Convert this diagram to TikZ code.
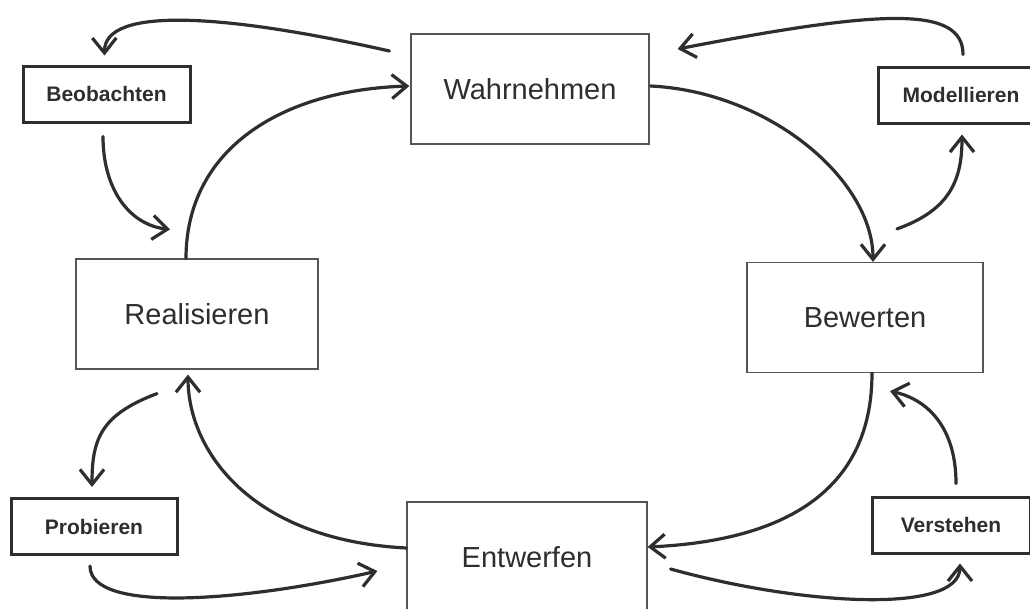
\documentclass[tikz,border=0pt]{standalone}
\usepackage{fontspec}
\setmainfont{Liberation Sans}
\usetikzlibrary{arrows.meta,calc}
\definecolor{ink}{HTML}{2E2E2E}
\definecolor{thinline}{HTML}{555555}
\tikzset{
  bigbox/.style={draw=thinline, line width=1.2pt, fill=none, minimum width=#1, minimum height=110pt,
    inner sep=0pt, text=ink, font=\fontsize{29}{34}\selectfont},
  smallbox/.style={draw=ink, line width=3pt, minimum width=#1, minimum height=56pt,
    inner sep=0pt, text=ink, font=\bfseries\fontsize{21}{25}\selectfont},
  arr/.style={draw=ink, line width=3.2pt, line cap=round,
    -{Straight Barb[length=15pt,width=24pt,line width=3.2pt]}}
}
\begin{document}
\begin{tikzpicture}[x=1pt,y=-1pt]
\useasboundingbox (0,0) rectangle (1030,608);
\fill[white] (0,0) rectangle (1030,608);
% main boxes
\node[bigbox=238pt] (W)  at (530,89)    {Wahrnehmen};
\node[bigbox=242pt] (R)  at (197,314)   {Realisieren};
\node[bigbox=236pt] (Bw) at (865,317.5) {Bewerten};
\node[bigbox=240pt] (E)  at (527,557)   {Entwerfen};
% small boxes
\node[smallbox=167pt] (Bo) at (106.5,94) {Beobachten};
\node[smallbox=166pt] (Mo) at (961,95)   {Modellieren};
\node[smallbox=166pt] (Pr) at (94,526.5) {Probieren};
\node[smallbox=158pt] (Ve) at (951,525)  {Verstehen};
% connectors
\draw[arr] ($(W.west)+(-21,-38)$) .. controls (230,15) and (104,5) .. ($(Bo.north)+(-2,-9)$);
\draw[arr] ($(Mo.north)+(2,-11)$) .. controls (963,5) and (880,10) .. ($(W.east)+(28,-40)$);
\draw[arr] ($(W.east)+(1,-3)$) .. controls (770,92) and (873,180) .. ($(Bw.north)+(8,0)$);
\draw[arr] ($(Bw.north)+(32,-33)$) .. controls (950,210) and (962,180) .. ($(Mo.south)+(1,10)$);
\draw[arr] ($(Bw.south)+(7,0)$) .. controls (872,480) and (800,540) .. ($(E.east)+(0,-10)$);
\draw[arr] ($(Ve.north)+(5,-12)$) .. controls (956,430) and (930,400) .. ($(Bw.south)+(25,18)$);
\draw[arr] ($(E.east)+(23,12)$) .. controls (800,605) and (960,615) .. ($(Ve.south)+(9,9)$);
\draw[arr] ($(E.west)+(0,-9)$) .. controls (250,540) and (188,450) .. ($(R.south)+(-9,5)$);
\draw[arr] ($(R.south)+(-40,24)$) .. controls (100,415) and (92,440) .. ($(Pr.north)+(-2,-10)$);
\draw[arr] ($(Pr.south)+(-4,10)$) .. controls (90,615) and (250,600) .. ($(E.west)+(-29,14)$);
\draw[arr] ($(Bo.south)+(-3.5,13)$) .. controls (103,190) and (130,225) .. ($(R.north)+(-27,-29)$);
\draw[arr] ($(R.north)+(-11,0)$) .. controls (186,150) and (280,90) .. ($(W.west)+(-1,-3)$);
\end{tikzpicture}
\end{document}
